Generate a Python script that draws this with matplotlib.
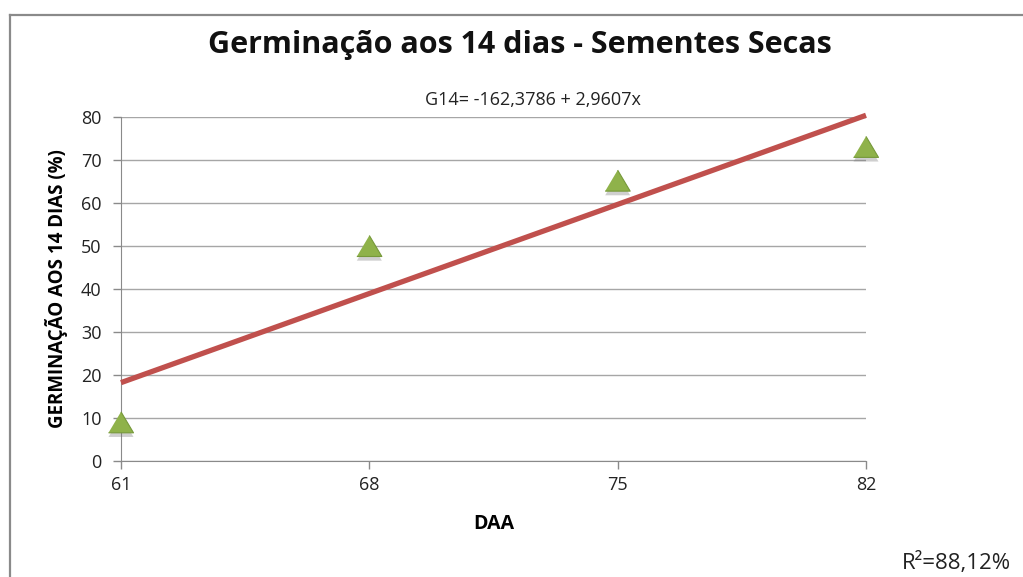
import matplotlib
matplotlib.use("Agg")
import matplotlib.pyplot as plt
import matplotlib.patheffects as pe
from matplotlib.lines import Line2D

# dados
daa = [61, 68, 75, 82]
germinacao = [9.0, 50.0, 65.2, 73.05]
x_ticks = [61, 68, 75, 82]
y_ticks = [0, 10, 20, 30, 40, 50, 60, 70, 80]
intercepto = -162.3786
inclinacao = 2.9607

plt.rcParams['font.family'] = ['Open Sans', 'DejaVu Sans']

my_dpi = 100
fig = plt.figure(figsize=(1023 / my_dpi, 577 / my_dpi), dpi=my_dpi)
ax = fig.add_axes([121 / 1023, 1 - 461 / 577, (866 - 121) / 1023, (461 - 117) / 577])

# moldura do grafico (so topo e esquerda aparecem)
fig.add_artist(Line2D([10 / 1023, 1], [1 - 15 / 577, 1 - 15 / 577], color="#8a8a8a", lw=1.6))
fig.add_artist(Line2D([10 / 1023, 10 / 1023], [0, 1 - 15 / 577], color="#8a8a8a", lw=1.6))

# linha de regressao
reta_x = [daa[0], daa[-1]]
reta_y = [intercepto + inclinacao * v for v in reta_x]
ax.plot(reta_x, reta_y, color="#c0504d", lw=3.8, solid_capstyle="butt", zorder=3, clip_on=False)

tri = [(-1, -0.84), (1, -0.84), (0, 0.84)]
ax.plot(daa, germinacao, linestyle="none", marker=tri, markersize=18,
        markerfacecolor="#8fb24a", markeredgecolor="#76993a", markeredgewidth=0.8,
        zorder=4, clip_on=False,
        path_effects=[pe.SimplePatchShadow(offset=(0, -3), shadow_rgbFace="#777777", alpha=0.35), pe.Normal()])

ax.set_xlim(61, 82)
ax.set_ylim(0, 80)
ax.set_xticks(x_ticks)
ax.set_yticks(y_ticks)
ax.tick_params(axis="both", labelsize=13, colors="#8a8a8a", labelcolor="#222222", length=6, width=1)
ax.tick_params(axis="x", pad=5)
ax.tick_params(axis="y", pad=8)
ax.grid(axis="y", color="#a6a6a6", lw=1)
ax.set_axisbelow(True)
for s in ["top", "right"]:
    ax.spines[s].set_visible(False)
for s in ["left", "bottom"]:
    ax.spines[s].set_color("#8a8a8a")

ax.set_xlabel("DAA", fontsize=14, fontweight="bold", labelpad=14)
ax.set_ylabel("GERMINAÇÃO AOS 14 DIAS (%)", fontsize=13.5, fontweight="bold", labelpad=9)

fig.text(520 / 1023, 1 - 45 / 577, "Germinação aos 14 dias - Sementes Secas",
         ha="center", va="center", fontsize=22, fontweight="bold", color="#111111")
fig.text(533 / 1023, 1 - 100 / 577, "G14= -162,3786 + 2,9607x",
         ha="center", va="center", fontsize=13, color="#222222")
fig.text(956 / 1023, 1 - 563 / 577, "R²=88,12%", ha="center", va="center", fontsize=16, color="#222222")

fig.savefig("out.png", dpi=my_dpi)
